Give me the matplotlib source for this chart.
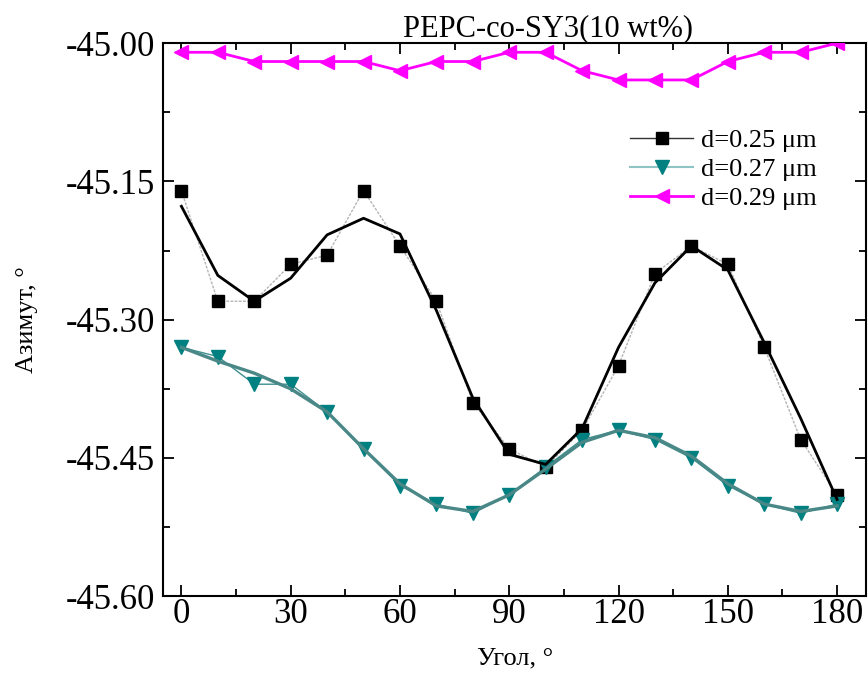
import matplotlib
matplotlib.use("Agg")
import matplotlib.pyplot as plt
from matplotlib.lines import Line2D
from matplotlib.ticker import MultipleLocator, FormatStrFormatter

plt.rcParams['font.family'] = ['Liberation Serif', 'DejaVu Serif']

angle = list(range(0, 181, 10))

# d = 0.25 um: measured points and smoothed curve
d025 = [-45.16, -45.28, -45.28, -45.24, -45.23, -45.16, -45.22, -45.28, -45.39, -45.44,
        -45.46, -45.42, -45.35, -45.25, -45.22, -45.24, -45.33, -45.43, -45.49]
d025_smooth = [-45.177, -45.252, -45.280, -45.255, -45.208, -45.190, -45.207, -45.290, -45.385, -45.446,
               -45.457, -45.418, -45.330, -45.260, -45.220, -45.246, -45.325, -45.407, -45.495]

# d = 0.27 um
d027 = [-45.33, -45.34, -45.37, -45.37, -45.40, -45.44, -45.48, -45.50, -45.51, -45.49,
        -45.46, -45.43, -45.42, -45.43, -45.45, -45.48, -45.50, -45.51, -45.50]
d027_smooth = [-45.330, -45.345, -45.358, -45.375, -45.400, -45.440, -45.478, -45.502, -45.508, -45.490,
               -45.462, -45.433, -45.420, -45.428, -45.448, -45.478, -45.500, -45.508, -45.502]

# d = 0.29 um
d029 = [-45.01, -45.01, -45.02, -45.02, -45.02, -45.02, -45.03, -45.02, -45.02, -45.01,
        -45.01, -45.03, -45.04, -45.04, -45.04, -45.02, -45.01, -45.01, -45.00]

labels = ['d=0.25 μm', 'd=0.27 μm', 'd=0.29 μm']
title = 'PEPC-co-SY3(10 wt%)'

fig = plt.figure(figsize=(8.68, 6.73), dpi=100)
ax = fig.add_axes([0.188, 0.114, 0.81, 0.822])

# 0.25
ax.plot(angle, d025, color='#b5b5b5', lw=1.0, ls=(0, (2, 1)), zorder=2)
ax.plot(angle, d025, ls='none', marker='s', ms=8, color='black', zorder=3)
ax.plot(angle, d025_smooth, color='black', lw=2.0, zorder=4)

# 0.27
ax.plot(angle, d027, color='#3f8f8f', lw=1.0, zorder=2)
ax.plot(angle, d027, ls='none', marker='v', ms=10, color='#008080', zorder=3)
ax.plot(angle, d027_smooth, color='#4a8888', lw=2.4, zorder=4)

# 0.29
ax.plot(angle, d029, color='#ff00ff', lw=2.0, marker='<', ms=10, zorder=3)

ax.set_xlim(-5, 188)
ax.set_ylim(-45.60, -45.00)
ax.xaxis.set_major_locator(MultipleLocator(30))
ax.xaxis.set_minor_locator(MultipleLocator(15))
ax.yaxis.set_major_locator(MultipleLocator(0.15))
ax.yaxis.set_minor_locator(MultipleLocator(0.075))
ax.yaxis.set_major_formatter(FormatStrFormatter('%.2f'))
ax.tick_params(which='both', direction='in', top=True, right=True, width=1.3)
ax.tick_params(which='major', length=8, labelsize=25)
ax.tick_params(axis='x', which='major', pad=1)
ax.tick_params(axis='y', which='major', pad=6)
ax.tick_params(which='minor', length=5)
for s in ax.spines.values():
    s.set_linewidth(1.5)

ax.set_xlabel('Угол, °', fontsize=19, labelpad=12)
ax.set_ylabel('Азимут, °', fontsize=19, labelpad=20)
ax.set_title(title, fontsize=22, pad=3, x=0.548)

handles = [
    Line2D([], [], color='#333333', lw=1.0, marker='s', ms=8, markerfacecolor='black', markeredgecolor='black'),
    Line2D([], [], color='#8fc4c4', lw=1.5, marker='v', ms=10, markerfacecolor='#008080', markeredgecolor='#008080'),
    Line2D([], [], color='#ff00ff', lw=2.0, marker='<', ms=10),
]
ax.legend(handles, labels, loc='upper right', bbox_to_anchor=(0.945, 0.865), frameon=False,
          fontsize=19, handlelength=2.4, handletextpad=0.3, labelspacing=0.22, borderaxespad=0)

fig.savefig('out.png', dpi=100)
